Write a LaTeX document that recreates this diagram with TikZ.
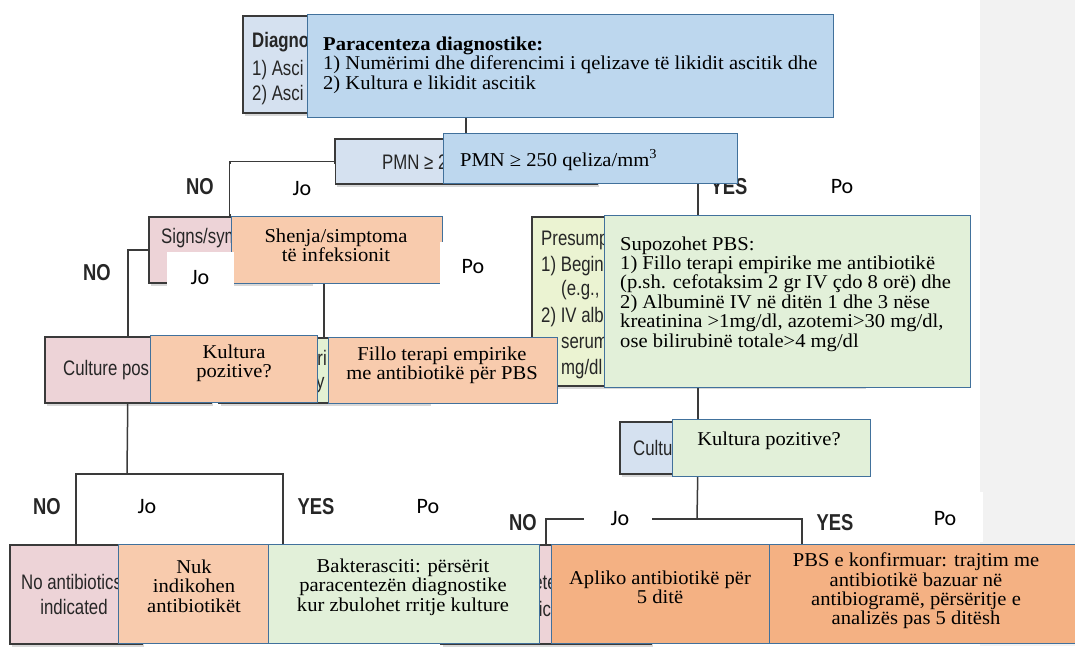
\documentclass[tikz,border=0pt]{standalone}
\usepackage{fontspec}
\newfontfamily\ovlfont{Liberation Serif}[FakeStretch=1.05]
\newfontfamily\origfont{Liberation Sans}[FakeStretch=0.8]
\newfontfamily\lblfont{Carlito}
\usetikzlibrary{shadows}
\definecolor{ovlblue}{HTML}{BDD7EE}
\definecolor{ovlborder}{HTML}{41719C}
\definecolor{ovlpeach}{HTML}{F8CBAD}
\definecolor{ovlorange}{HTML}{F4B183}
\definecolor{ovlgreen}{HTML}{E2F0D9}
\definecolor{origblue}{HTML}{D5E1F0}
\definecolor{origpink}{HTML}{EDD3D7}
\definecolor{origlime}{HTML}{EBF3D2}
\definecolor{origgreen}{HTML}{E3F1D3}
\definecolor{origedge}{HTML}{3A3A3A}
\definecolor{panel}{HTML}{F2F2F2}
\begin{document}
\begin{tikzpicture}[x=1pt,y=-1pt,
  orig/.style={draw=origedge, line width=1.5pt, inner sep=0pt, anchor=north west,
    drop shadow={shadow xshift=2pt, shadow yshift=-3pt, opacity=0.3}},
  ovl/.style={draw=ovlborder, line width=1.4pt, inner sep=0pt, anchor=north west},
  link/.style={draw=origedge, line width=1.5pt},
  otext/.style={inner sep=0pt, font=\origfont\fontsize{21}{25}\selectfont, text=black!85},
  ttext/.style={inner sep=0pt, font=\ovlfont\fontsize{19.6}{19.4}\selectfont, text=black},
  yesno/.style={inner sep=0pt, font=\origfont\bfseries\fontsize{23}{27}\selectfont, text=black!85},
  lbl/.style={inner sep=0pt, font=\lblfont\fontsize{22}{26}\selectfont, text=black},
  mask/.style={fill=white, draw=none, inner sep=0pt, anchor=north west}
]
\useasboundingbox (0,0) rectangle (1075,646);
\fill[white] (0,0) rectangle (1075,646);
\fill[panel] (980,0) rectangle (1075,646);

% ---------- English flowchart ----------
\node[orig, fill=origblue, minimum width=446pt, minimum height=97pt] (diag) at (242,15) {};
\node[orig, fill=origblue, minimum width=262pt, minimum height=45pt] (pmn) at (334,138) {};
\node[orig, fill=origpink, minimum width=162pt, minimum height=66pt] (signs) at (148,216) {};
\node[orig, fill=origlime, minimum width=332pt, minimum height=169pt] (pres) at (531,216) {};
\node[orig, fill=origpink, minimum width=166pt, minimum height=66pt] (cpos) at (44,336) {};
\node[orig, fill=origgreen, minimum width=210pt, minimum height=65pt] (emp) at (218,337) {};
\node[orig, fill=origblue, minimum width=156pt, minimum height=52pt] (cul2) at (619,421) {};
\node[orig, fill=origpink, minimum width=132pt, minimum height=99pt] (noab) at (9,544) {};
\node[orig, fill=origpink, minimum width=210pt, minimum height=99pt] (neg) at (440,544) {};
\coordinate (bactTop) at (283,544);
\coordinate (confTop) at (802,544);
\coordinate (splitL) at (127,474);
\coordinate (splitR) at (697,519);

\draw[link] (diag.south) -- (pmn.north);
\draw[link] (pmn.west) -| (signs.north);
\draw[link] (pmn.east) -| (pres.north);
\draw[link] (signs.west) -| (cpos.north);
\draw[link] (signs.east) -| (emp.north);
\draw[link] (pres.south) -- (cul2.north);
\draw[link] (cpos.south) -- (splitL);
\draw[link] (noab.north) |- (splitL) -| (bactTop);
\draw[link] (cul2.south) -- (splitR);
\draw[link] (neg.north) |- (splitR) -| (confTop);

\node[otext, anchor=west] (diagA) at (252,42) {\bfseries Diagno};
\node[otext, anchor=west] (diagB) at (252,70) {1) Asci};
\node[otext, anchor=west] (diagC) at (252,95) {2) Asci};
\node[otext, anchor=west] (pmnA) at (382,162) {PMN ≥ 2};
\node[otext, anchor=west] (signsA) at (161,238) {Signs/sym};
\node[otext, anchor=west] (presA) at (541,240) {Presump};
\node[otext, anchor=west] (presB) at (541,266) {1) Begin};
\node[otext, anchor=west] (presC) at (561,290) {(e.g.,};
\node[otext, anchor=west] (presD) at (541,317) {2) IV alb};
\node[otext, anchor=west] (presE) at (561,343) {serum};
\node[otext, anchor=west] (presF) at (561,369) {mg/dl};
\node[otext, anchor=west] (cposA) at (63,370) {Culture pos};
\node[otext, anchor=east] (empA) at (327,358) {ri};
\node[otext, anchor=west] (empB) at (316,384) {y t};
\node[otext, anchor=west] (cul2A) at (633,448) {Cultu};
\node[otext, anchor=west] (noabA) at (21,582) {No antibiotics};
\node[otext] (noabB) at (74,607) {indicated};
\node[otext] (negA) at (545,583) {ete};
\node[otext] (negB) at (545,609) {ic};

\node[yesno] (no1) at (200,187) {NO};
\node[yesno] (yes1) at (729,187) {YES};
\node[yesno] (no2) at (97,273) {NO};
\node[yesno] (no3) at (47,507) {NO};
\node[yesno] (yes3) at (316,507) {YES};
\node[yesno] (no4) at (523,523) {NO};
\node[yesno] (yes4) at (835,523) {YES};

% ---------- Albanian boxes ----------
\node[ovl, fill=ovlblue, minimum width=526pt, minimum height=103pt] (paraBox) at (307,14) {};
\node[ttext, anchor=west, align=left] (paraTxt) at (323,65)
  {\bfseries Paracenteza diagnostike:\\
   1) Numërimi dhe diferencimi i qelizave të likidit ascitik dhe\\
   2) Kultura e likidit ascitik};
\node[ovl, fill=ovlblue, minimum width=294pt, minimum height=50pt] (pmnBox) at (443,133) {};
\node[ttext, anchor=west] (pmnTxt) at (460,160) {PMN ≥ 250 qeliza/mm\textsuperscript{3}};
\node[ovl, fill=ovlpeach, minimum width=211pt, minimum height=67pt] (shenBox) at (231,216) {};
\node[ttext, align=center] (shenTxt) at (336,245) {Shenja/simptoma\\të infeksionit};
\node[ovl, fill=ovlgreen, minimum width=366pt, minimum height=172pt] (supBox) at (604,215) {};
\node[ttext, anchor=west, align=left] (supTxt) at (620,294)
  {Supozohet PBS:\\
   1) Fillo terapi empirike me antibiotikë\\
   (p.sh. cefotaksim 2 gr IV çdo 8 orë) dhe\\
   2) Albuminë IV në ditën 1 dhe 3 nëse\\
   kreatinina >1mg/dl, azotemi>30 mg/dl,\\
   ose bilirubinë totale>4 mg/dl};
\node[ovl, fill=ovlpeach, minimum width=167pt, minimum height=67pt] (kulLBox) at (150,335) {};
\node[ttext, align=center] (kulLTxt) at (234,363) {Kultura\\pozitive?};
\node[ovl, fill=ovlpeach, minimum width=229pt, minimum height=66pt] (filloBox) at (328,337) {};
\node[ttext, align=center] (filloTxt) at (442,365) {Fillo terapi empirike\\me antibiotikë për PBS};
\node[ovl, fill=ovlgreen, minimum width=198pt, minimum height=57pt] (kulRBox) at (672,419) {};
\node[ttext] (kulRTxt) at (769,441) {Kultura pozitive?};
\node[ovl, fill=ovlpeach, minimum width=150pt, minimum height=99pt] (nukBox) at (118,544) {};
\node[ttext, align=center] (nukTxt) at (194,586) {Nuk\\indikohen\\antibiotikët};
\node[ovl, fill=ovlgreen, minimum width=271pt, minimum height=99pt] (baktBox) at (268,544) {};
\node[ttext, align=center] (baktTxt) at (403,587) {Bakterasciti: përsërit\\paracentezën diagnostike\\kur zbulohet rritje kulture};
\node[ovl, fill=ovlorange, minimum width=218pt, minimum height=99pt] (aplBox) at (551,544) {};
\node[ttext, align=center] (aplTxt) at (660,587) {Apliko antibiotikë për\\5 ditë};
\node[ovl, fill=ovlorange, minimum width=312pt, minimum height=99pt] (pbsBox) at (769,544) {};
\node[ttext, align=center] (pbsTxt) at (916,591) {PBS e konfirmuar: trajtim me\\antibiotikë bazuar në\\antibiogramë, përsëritje e\\analizës pas 5 ditësh};

% ---------- Albanian answer labels ----------
\node[mask, minimum width=105pt, minimum height=50pt] (jo1m) at (230,164) {};
\node[lbl] (jo1) at (302,189) {Jo};
\node[lbl] (po1) at (842,187) {Po};
\node[mask, minimum width=67pt, minimum height=36pt] (jo2m) at (167,252) {};
\node[lbl] (jo2) at (200,278) {Jo};
\node[mask, minimum width=70pt, minimum height=55pt] (po2m) at (440,242) {};
\node[lbl] (po2) at (473,267) {Po};
\node[lbl] (jo3) at (147,507) {Jo};
\node[lbl] (po3) at (428,507) {Po};
\node[mask, minimum width=68pt, minimum height=40pt] (jo4m) at (584,503) {};
\node[lbl] (jo4) at (620,519) {Jo};
\node[mask, minimum width=83pt, minimum height=50pt] (po4m) at (900,492) {};
\node[lbl] (po4) at (945,519) {Po};
\end{tikzpicture}
\end{document}
